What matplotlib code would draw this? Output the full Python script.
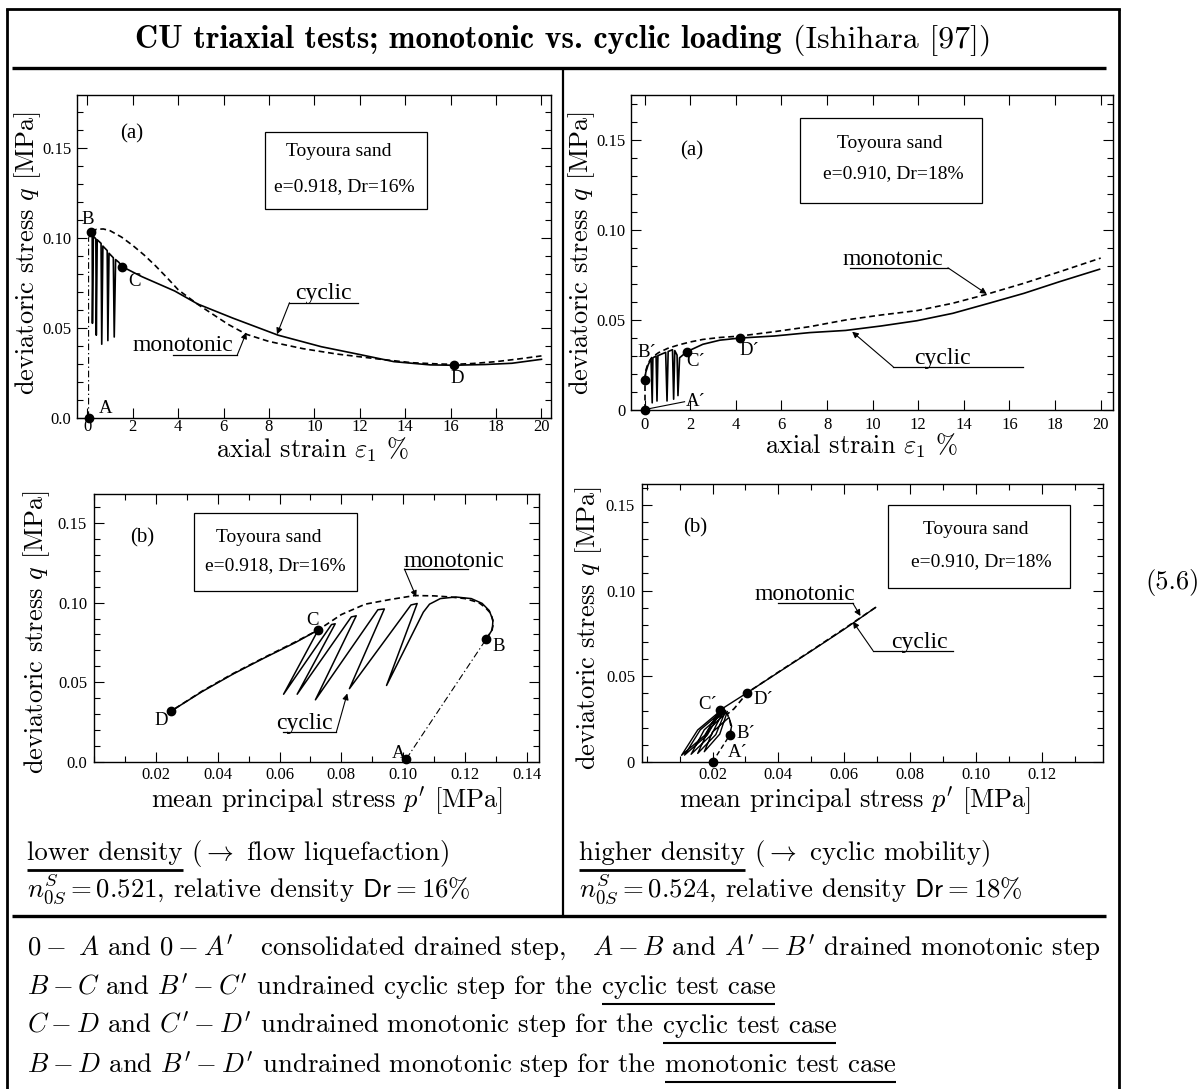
import matplotlib
matplotlib.use("Agg")
import matplotlib.pyplot as plt
from matplotlib.patches import Rectangle
from matplotlib.ticker import MultipleLocator

plt.rcParams['mathtext.fontset'] = 'cm'
plt.rcParams['font.family'] = ['Liberation Serif', 'DejaVu Serif']

W, H = 1204, 1089

# ---------------- data ----------------
# (a) lower density : q vs axial strain
tl_A = (0.05, 0.0)
tl_B = (0.17, 0.1035)
tl_C = (1.54, 0.084)
tl_D = (16.13, 0.0293)
tl_mono_x = [0.17, 0.4, 0.7, 1.0, 1.5, 2.0, 2.5, 3.0, 3.5, 4.0, 4.5, 4.9, 5.5, 6.2, 7.0, 8.0,
             9.5, 11.0, 12.0, 13.0, 14.3, 15.5, 16.2, 17.0, 18.0, 19.0, 20.0]
tl_mono_q = [0.1035, 0.1048, 0.105, 0.104, 0.1005, 0.0958, 0.0905, 0.0845, 0.078, 0.0712, 0.0665,
             0.0628, 0.0578, 0.052, 0.0465, 0.0425, 0.0385, 0.0355, 0.034, 0.0325, 0.0307, 0.030,
             0.0298, 0.0303, 0.0313, 0.0328, 0.0345]
tl_cyc_x = [0.17, 0.21, 0.22, 0.26, 0.37, 0.39, 0.43, 0.60, 0.63, 0.68, 0.87, 0.90, 0.95, 1.14,
            1.18, 1.24, 1.38, 1.54, 2.4, 3.85, 4.86, 6.4, 8.4, 10.3, 11.9, 13.5, 15.1, 16.13,
            17.5, 18.7, 20.0]
tl_cyc_q = [0.1035, 0.102, 0.0526, 0.101, 0.0995, 0.046, 0.099, 0.097, 0.041, 0.0955, 0.093,
            0.043, 0.0915, 0.089, 0.045, 0.088, 0.0865, 0.084, 0.0785, 0.0705, 0.0633, 0.0555,
            0.046, 0.0396, 0.0355, 0.0313, 0.0295, 0.0293, 0.0297, 0.0304, 0.0326]

# (a) higher density : q vs axial strain
tr_A = (0.0, 0.0)
tr_B = (0.0, 0.0165)
tr_C = (1.85, 0.0324)
tr_D = (4.2, 0.040)
tr_mono_x = [0.0, 0.05, 0.15, 0.3, 0.6, 1.0, 1.5, 2.0, 2.55, 3.3, 4.12, 5.68, 7.24, 8.81, 10.38,
             11.94, 13.51, 14.92, 16.63, 18.2, 20.0]
tr_mono_q = [0.0165, 0.022, 0.026, 0.029, 0.0318, 0.0342, 0.0362, 0.0378, 0.0392, 0.0403, 0.041,
             0.0435, 0.0463, 0.050, 0.0528, 0.0552, 0.0593, 0.064, 0.0704, 0.0768, 0.0844]
tr_cyc_x = [0.0, 0.05, 0.15, 0.28, 0.33, 0.36, 0.50, 0.54, 0.58, 0.92, 0.98, 1.03, 1.22, 1.27,
            1.32, 1.42, 1.46, 1.53, 1.85, 2.55, 3.3, 4.2, 5.68, 7.24, 8.81, 10.38, 11.94, 13.51,
            15.1, 16.63, 18.2, 19.95]
tr_cyc_q = [0.0165, 0.021, 0.025, 0.0285, 0.004, 0.029, 0.030, 0.005, 0.0302, 0.032, 0.005,
            0.0325, 0.0335, 0.006, 0.033, 0.0305, 0.008, 0.029, 0.0324, 0.0365, 0.0388, 0.040,
            0.0411, 0.043, 0.0442, 0.0467, 0.0496, 0.0537, 0.0593, 0.0648, 0.0713, 0.0782]

# (b) lower density : q vs p'
bl_A = (0.101, 0.002)
bl_B = (0.1269, 0.0773)
bl_C = (0.0725, 0.0828)
bl_D = (0.025, 0.032)
bl_mono_p = [0.1269, 0.1285, 0.1292, 0.1284, 0.1265, 0.1244, 0.120, 0.1152, 0.110, 0.1037, 0.096,
             0.0877, 0.080, 0.0725, 0.065, 0.055, 0.045, 0.035, 0.025]
bl_mono_q = [0.0773, 0.082, 0.0867, 0.093, 0.097, 0.100, 0.1025, 0.1035, 0.1042, 0.1044, 0.102,
             0.099, 0.0925, 0.0828, 0.0752, 0.0655, 0.0555, 0.0445, 0.032]
bl_cyc_p = [0.1269, 0.1288, 0.129, 0.1278, 0.1255, 0.122, 0.117, 0.112, 0.1085, 0.1065, 0.0946,
            0.1045, 0.1025, 0.0826, 0.0939, 0.0918, 0.0716, 0.0848, 0.0832, 0.0657, 0.078, 0.0768,
            0.0613, 0.0725, 0.065, 0.055, 0.045, 0.035, 0.025]
bl_cyc_q = [0.0773, 0.083, 0.089, 0.095, 0.0995, 0.1025, 0.1035, 0.1025, 0.099, 0.094, 0.048,
            0.0994, 0.0985, 0.046, 0.096, 0.0955, 0.039, 0.0917, 0.091, 0.0425, 0.0867, 0.0862,
            0.0425, 0.0828, 0.0748, 0.0652, 0.0552, 0.0442, 0.032]

# (b) higher density : q vs p'
br_A = (0.020, 0.0)
br_B = (0.0252, 0.0156)
br_C = (0.0222, 0.0302)
br_D = (0.0306, 0.0405)
br_mono_p = [0.0252, 0.0257, 0.0252, 0.0245, 0.0265, 0.0306, 0.040, 0.050, 0.060, 0.0698]
br_mono_q = [0.0156, 0.020, 0.0245, 0.028, 0.031, 0.0405, 0.0525, 0.065, 0.0778, 0.0906]
br_cyc_p = [0.0252, 0.0258, 0.0250, 0.0200, 0.0175, 0.0222, 0.0245, 0.0188, 0.0155, 0.0210,
            0.0240, 0.0175, 0.0135, 0.0197, 0.0235, 0.0163, 0.0115, 0.0184, 0.0228, 0.0155,
            0.0106, 0.0176, 0.0222, 0.0306, 0.040, 0.050, 0.060, 0.0695]
br_cyc_q = [0.0156, 0.021, 0.026, 0.0175, 0.006, 0.0163, 0.0295, 0.0188, 0.005, 0.016, 0.030,
            0.0188, 0.0045, 0.016, 0.0305, 0.0188, 0.004, 0.0157, 0.0305, 0.0187, 0.0039,
            0.0155, 0.0302, 0.0405, 0.0523, 0.0648, 0.0775, 0.0902]

strain_ticks = [0, 2, 4, 6, 8, 10, 12, 14, 16, 18, 20]
strain_labels = ['0', '2', '4', '6', '8', '10', '12', '14', '16', '18', '20']
q_ticks = [0.0, 0.05, 0.10, 0.15]
q_labels_a = ['0.0', '0.05', '0.10', '0.15']
q_labels_b = ['0', '0.05', '0.10', '0.15']
p_ticks_l = [0.02, 0.04, 0.06, 0.08, 0.10, 0.12, 0.14]
p_labels_l = ['0.02', '0.04', '0.06', '0.08', '0.10', '0.12', '0.14']
p_ticks_r = [0.02, 0.04, 0.06, 0.08, 0.10, 0.12]
p_labels_r = ['0.02', '0.04', '0.06', '0.08', '0.10', '0.12']

# ---------------- figure ----------------
fig = plt.figure(figsize=(W / 100, H / 100), dpi=100)
ov = fig.add_axes([0, 0, 1, 1])
ov.set_xlim(0, W)
ov.set_ylim(H, 0)
ov.axis('off')
renderer = fig.canvas.get_renderer()

TICKFS = 12
LBLFS = 13.5
ANNFS = 17
BOXFS = 14


def make_ax(l, r, t, b, xlim, ylim, xt, xl, yt, yl, xminor, yminor, xpad, ypad):
    ax = fig.add_axes([l / W, 1 - b / H, (r - l) / W, (b - t) / H])
    ax.set_facecolor('none')
    ax.set_xlim(*xlim)
    ax.set_ylim(*ylim)
    ax.set_xticks(xt)
    ax.set_xticklabels(xl)
    ax.set_yticks(yt)
    ax.set_yticklabels(yl)
    if xminor:
        ax.xaxis.set_minor_locator(MultipleLocator(xminor))
    if yminor:
        ax.yaxis.set_minor_locator(MultipleLocator(yminor))
    ax.tick_params(which='both', direction='in', top=True, right=True,
                   labelsize=TICKFS, width=0.8)
    ax.tick_params(which='major', length=7)
    ax.tick_params(which='minor', length=4)
    ax.tick_params(axis='x', which='both', pad=xpad)
    ax.tick_params(axis='y', which='both', pad=ypad)
    for sp in ax.spines.values():
        sp.set_linewidth(1.0)
    return ax


def arrow(ax, start, tip):
    ax.annotate('', xy=tip, xytext=start,
                arrowprops=dict(arrowstyle='-|>', color='k', lw=0.8,
                                mutation_scale=9, shrinkA=0, shrinkB=0))


def leader(ax, text, tx, ty, ux0, ux1, uy, start, tip):
    ax.text(tx, ty, text, fontsize=ANNFS, ha='center', va='baseline')
    ax.plot([ux0, ux1], [uy, uy], color='k', lw=0.9)
    arrow(ax, start, tip)


def box(ax, x0, y0, x1, y1, t1, p1, t2, p2):
    ax.add_patch(Rectangle((x0, y0), x1 - x0, y1 - y0, fill=False, lw=0.9, ec='k'))
    ax.text(p1[0], p1[1], t1, fontsize=BOXFS, ha='center', va='center')
    ax.text(p2[0], p2[1], t2, fontsize=BOXFS, ha='center', va='center')


DASH = (0, (3.5, 2.2))
DASHDOT = (0, (6, 2.5, 1.2, 2.5))

# ---- top-left ----
ax1 = make_ax(77, 551, 95, 418, (-0.46, 20.42), (0, 0.1794), strain_ticks, strain_labels,
              q_ticks, q_labels_a, None, 0.01, 1, 4)
ax1.plot([tl_A[0], tl_A[0], tl_B[0]], [tl_A[1], 0.1, tl_B[1]], color='k', lw=0.8, ls=DASHDOT)
ax1.plot(tl_mono_x, tl_mono_q, color='k', lw=1.2, ls=DASH)
ax1.plot(tl_cyc_x, tl_cyc_q, color='k', lw=1.2)
for pt in (tl_A, tl_B, tl_C, tl_D):
    ax1.plot(*pt, 'o', color='k', ms=6, clip_on=False, zorder=5)
ax1.text(0.0, 0.1105, 'B', fontsize=LBLFS, ha='center', va='center')
ax1.text(0.5, 0.0054, 'A', fontsize=LBLFS, ha='left', va='center')
ax1.text(1.79, 0.0757, 'C', fontsize=LBLFS, ha='left', va='center')
ax1.text(16.3, 0.022, 'D', fontsize=LBLFS, ha='center', va='center')
ax1.text(1.95, 0.158, '(a)', fontsize=15, ha='center', va='center')
box(ax1, 7.8, 0.116, 14.95, 0.159, 'Toyoura sand', (11.07, 0.148),
    'e=0.918, Dr=16%', (11.3, 0.1285))
leader(ax1, 'cyclic', 10.4, 0.066, 8.9, 11.9, 0.064, (8.9, 0.064), (8.35, 0.0465))
leader(ax1, 'monotonic', 4.2, 0.037, 3.77, 6.6, 0.035, (6.6, 0.035), (7.0, 0.0475))

# ---- top-right ----
ax2 = make_ax(631, 1113, 95, 410, (-0.6, 20.54), (0, 0.175), strain_ticks, strain_labels,
              q_ticks, q_labels_b, None, 0.01, 5, 4)
ax2.plot([tr_A[0], tr_B[0]], [tr_A[1], tr_B[1]], color='k', lw=1.2, ls=DASH)
ax2.plot(tr_mono_x, tr_mono_q, color='k', lw=1.2, ls=DASH)
ax2.plot(tr_cyc_x, tr_cyc_q, color='k', lw=1.2)
for pt in (tr_A, tr_B, tr_C, tr_D):
    ax2.plot(*pt, 'o', color='k', ms=6, clip_on=False, zorder=5)
ax2.plot([0.1, 1.75], [0.0005, 0.0046], color='k', lw=0.8)
ax2.text(1.8, 0.0046, 'A\u00b4', fontsize=LBLFS, ha='left', va='center')
ax2.text(0.1, 0.0317, 'B\u00b4', fontsize=LBLFS, ha='center', va='center')
ax2.text(2.25, 0.0268, 'C\u00b4', fontsize=LBLFS, ha='center', va='center')
ax2.text(4.6, 0.0333, 'D\u00b4', fontsize=LBLFS, ha='center', va='center')
ax2.text(2.07, 0.144, '(a)', fontsize=15, ha='center', va='center')
box(ax2, 6.8, 0.115, 14.8, 0.162, 'Toyoura sand', (10.77, 0.148),
    'e=0.910, Dr=18%', (10.9, 0.1315))
leader(ax2, 'monotonic', 10.9, 0.0805, 9.0, 13.3, 0.079, (13.3, 0.079), (15.0, 0.0645))
leader(ax2, 'cyclic', 13.05, 0.0255, 10.9, 16.6, 0.024, (10.9, 0.024), (9.1, 0.0435))

# ---- bottom-left ----
ax3 = make_ax(94, 539, 494, 762, (0.0, 0.1439), (0, 0.1681), p_ticks_l, p_labels_l,
              q_ticks, q_labels_a, 0.01, 0.01, 3.5, 5)
ax3.plot([bl_A[0], bl_B[0]], [bl_A[1], bl_B[1]], color='k', lw=0.8, ls=DASHDOT)
ax3.plot(bl_mono_p, bl_mono_q, color='k', lw=1.2, ls=DASH)
ax3.plot(bl_cyc_p, bl_cyc_q, color='k', lw=1.1)
for pt in (bl_A, bl_B, bl_C, bl_D):
    ax3.plot(*pt, 'o', color='k', ms=6, clip_on=False, zorder=5)
ax3.text(0.0705, 0.0888, 'C', fontsize=LBLFS, ha='center', va='center')
ax3.text(0.131, 0.0725, 'B', fontsize=LBLFS, ha='center', va='center')
ax3.text(0.0986, 0.0054, 'A', fontsize=LBLFS, ha='center', va='center')
ax3.text(0.0218, 0.026, 'D', fontsize=LBLFS, ha='center', va='center')
ax3.text(0.0155, 0.1406, '(b)', fontsize=15, ha='center', va='center')
box(ax3, 0.0324, 0.1075, 0.085, 0.156, 'Toyoura sand', (0.0565, 0.141),
    'e=0.918, Dr=16%', (0.0585, 0.123))
leader(ax3, 'monotonic', 0.1163, 0.1225, 0.1004, 0.121, 0.121, (0.1004, 0.121), (0.1042, 0.1035))
leader(ax3, 'cyclic', 0.068, 0.021, 0.0612, 0.0784, 0.019, (0.0784, 0.019), (0.0819, 0.043))

# ---- bottom-right ----
ax4 = make_ax(642, 1103, 484, 762, (-0.0014, 0.1385), (0, 0.1622), p_ticks_r, p_labels_r,
              q_ticks, q_labels_b, 0.01, 0.01, 3.5, 5)
ax4.plot([br_A[0], br_B[0]], [br_A[1], br_B[1]], color='k', lw=1.0, ls=DASH)
ax4.plot(br_mono_p, br_mono_q, color='k', lw=1.2, ls=DASH)
ax4.plot(br_cyc_p, br_cyc_q, color='k', lw=1.0)
for pt in (br_A, br_B, br_C, br_D):
    ax4.plot(*pt, 'o', color='k', ms=6, clip_on=False, zorder=5)
ax4.text(0.0215, 0.0335, 'C\u00b4', fontsize=LBLFS, ha='right', va='center')
ax4.text(0.0325, 0.0362, 'D\u00b4', fontsize=LBLFS, ha='left', va='center')
ax4.text(0.0272, 0.0165, 'B\u00b4', fontsize=LBLFS, ha='left', va='center')
ax4.text(0.0245, 0.0054, 'A\u00b4', fontsize=LBLFS, ha='left', va='center')
ax4.text(0.0148, 0.1365, '(b)', fontsize=15, ha='center', va='center')
box(ax4, 0.0733, 0.1015, 0.1286, 0.150, 'Toyoura sand', (0.100, 0.1354),
    'e=0.910, Dr=18%', (0.1017, 0.1169))
leader(ax4, 'monotonic', 0.048, 0.0945, 0.040, 0.0626, 0.0926, (0.0626, 0.0926), (0.0649, 0.0852))
leader(ax4, 'cyclic', 0.0828, 0.0668, 0.0687, 0.093, 0.065, (0.0687, 0.065), (0.0626, 0.0819))

# ---- axis labels (overlay, pixel coords) ----
AXFS = 19
ylab = r'deviatoric stress $q$ [MPa]'
ov.text(28, 253, ylab, family='cmr10', fontsize=AXFS, rotation=90, ha='center', va='center')
ov.text(582, 253, ylab, family='cmr10', fontsize=AXFS, rotation=90, ha='center', va='center')
ov.text(37, 632, ylab, family='cmr10', fontsize=AXFS, rotation=90, ha='center', va='center')
ov.text(589, 628, ylab, family='cmr10', fontsize=AXFS, rotation=90, ha='center', va='center')
xlab_a = r'axial strain $\varepsilon_1$ %'
xlab_b = r"mean principal stress $p'$ [MPa]"
ov.text(313, 458, xlab_a, family='cmr10', fontsize=AXFS, ha='center', va='baseline')
ov.text(862, 454, xlab_a, family='cmr10', fontsize=AXFS, ha='center', va='baseline')
ov.text(327, 808, xlab_b, family='cmr10', fontsize=AXFS, ha='center', va='baseline')
ov.text(855, 808, xlab_b, family='cmr10', fontsize=AXFS, ha='center', va='baseline')

# ---- frame lines ----
ov.plot([7, 7], [9, H], color='k', lw=2.0, solid_capstyle='butt')
ov.plot([1119, 1119], [9, H], color='k', lw=2.0, solid_capstyle='butt')
ov.plot([7, 1119], [9, 9], color='k', lw=2.0, solid_capstyle='projecting')
ov.plot([12, 1106], [68, 68], color='k', lw=2.4, solid_capstyle='butt')
ov.plot([563, 563], [68, 916], color='k', lw=1.6, solid_capstyle='butt')
ov.plot([12, 1106], [916, 916], color='k', lw=2.4, solid_capstyle='butt')


def width_px(t):
    bb = t.get_window_extent(renderer)
    return bb.x1 - bb.x0


def seg(x, y, s, fs, underline=False, family='cmr10', ulw=1.5, uoff=10):
    t = ov.text(x, y, s, family=family, fontsize=fs, ha='left', va='baseline')
    bb = t.get_window_extent(renderer)
    if underline:
        ov.plot([bb.x0, bb.x1], [y + uoff, y + uoff], color='k', lw=ulw, solid_capstyle='butt')
    return bb.x1


# ---- title ----
TFS = 23
t1 = ov.text(0, 48, 'CU triaxial tests; monotonic vs. cyclic loading', family='cmb10',
             fontsize=TFS, ha='left', va='baseline')
t2 = ov.text(0, 48, '(Ishihara [97])', family='cmr10', fontsize=TFS, ha='left', va='baseline')
gap = 0.35 * TFS * 100 / 72
total = width_px(t1) + gap + width_px(t2)
x0 = 563 - total / 2
t1.set_x(x0)
t2.set_x(x0 + width_px(t1) + gap)

# ---- bottom texts ----
BFS = 19.3
SP = 0.333 * BFS * 100 / 72
x = seg(27, 860, 'lower density', BFS, underline=True, ulw=2.0)
seg(x + SP, 860, r'($\rightarrow$ flow liquefaction)', BFS)
seg(27, 897, r'$n^S_{0S} = 0.521$, relative density $\mathsf{Dr} = 16\%$', BFS)
x = seg(579, 860, 'higher density', BFS, underline=True, ulw=2.0)
seg(x + SP, 860, r'($\rightarrow$ cyclic mobility)', BFS)
seg(579, 897, r'$n^S_{0S} = 0.524$, relative density $\mathsf{Dr} = 18\%$', BFS)

seg(27, 955, r"$0-\ A$ and $0-A'$   consolidated drained step,   $A-B$ and $A'-B'$ drained monotonic step", BFS)
x = seg(27, 994, r"$B-C$ and $B'-C'$ undrained cyclic step for the", BFS)
seg(x + SP, 994, 'cyclic test case', BFS, underline=True)
x = seg(27, 1033, r"$C-D$ and $C'-D'$ undrained monotonic step for the", BFS)
seg(x + SP, 1033, 'cyclic test case', BFS, underline=True)
x = seg(27, 1072, r"$B-D$ and $B'-D'$ undrained monotonic step for the", BFS)
seg(x + SP, 1072, 'monotonic test case', BFS, underline=True)

ov.text(1200, 582, '(5.6)', family='cmr10', fontsize=19, ha='right', va='center')

fig.savefig('out.png', dpi=100)
